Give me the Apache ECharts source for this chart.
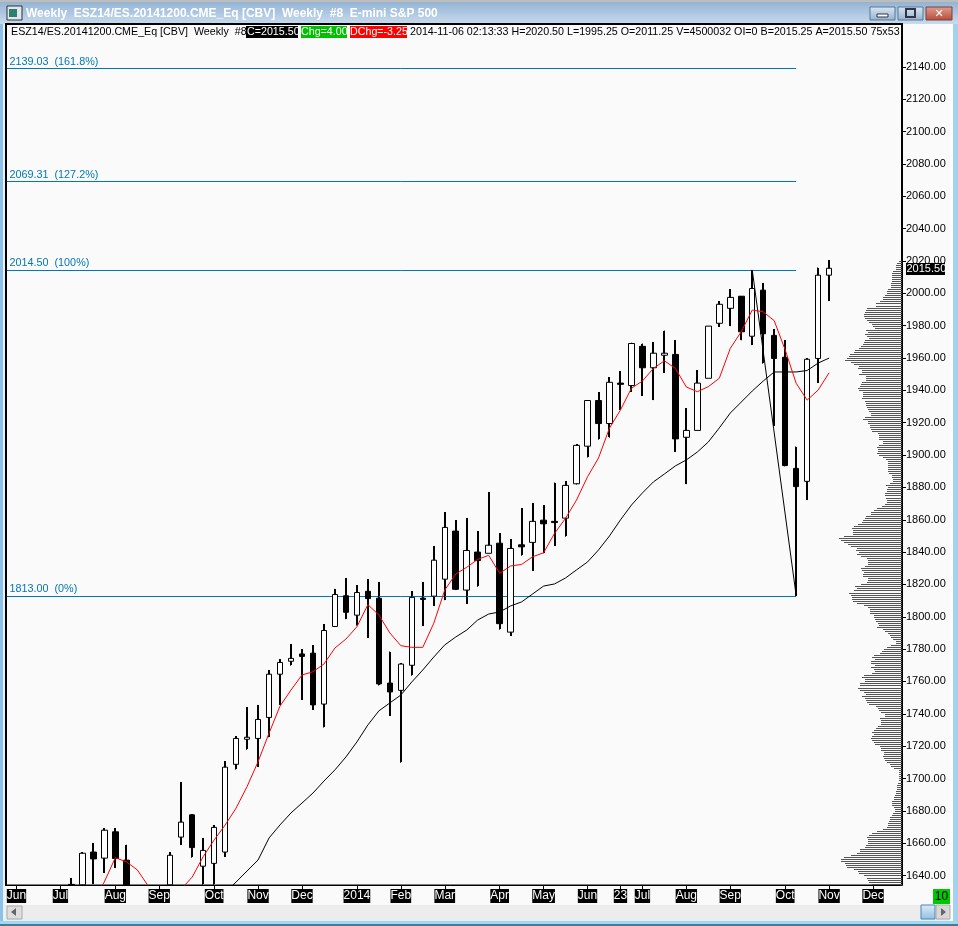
<!DOCTYPE html>
<html><head><meta charset="utf-8">
<style>html,body{margin:0;padding:0;background:#fafafa;overflow:hidden}#c{width:958px;height:926px}</style>
<script src="https://cdn.jsdelivr.net/npm/echarts@6/dist/echarts.min.js"></script></head>
<body><div id="c"></div>
<script>
const tickLabels = ['', 'Jun','','','','Jul','','','','','Aug','','','','Sep','','','','','Oct','','','','Nov','','','','Dec','','','','','2014','','','','Feb','','','','Mar','','','','','Apr','','','','May','','','','Jun','','','23','','Jul','','','','Aug','','','','Sep','','','','','Oct','','','','Nov','','','','Dec','',''];
const opens  = [null,null,null,null,null,null,1634.5,1634.25,1654.5,1650.75,1667,1649.5,null,null,null,1634.25,1663.75,1677.5,1645.75,1647.5,1654.5,1708.75,1724.25,1724.75,1737.75,1764.5,1772.5,1777,1777.5,1746,1794,1813,1801,1815.75,1811.5,1759,1754.5,1770,1811.5,1812.75,1823.25,1853,1816.5,1840,1839.25,1845.5,1790.5,1844.5,1846,1859.75,1859,1861,1882.25,1905.5,1933.75,1919.5,1944.5,1943,1967.25,1954,1961.75,1962.25,1911,1915.25,1947.5,1981.5,1990.75,1998.25,1973.5,2002,1974,1960.5,1891.75,1883.75,1959.75,2011.25];
const closes = [null,null,null,null,null,null,1634.25,1653.75,1650.25,1668,1650.5,1634.25,null,null,null,1652.5,1673,1657.25,1655.5,1669.75,1707,1724.75,1725.5,1736.5,1764.5,1771.75,1774.25,1775.5,1745.5,1791.5,1813.75,1802.75,1815,1811.25,1758.5,1753.5,1770.75,1812,1810.75,1835,1855.25,1817,1841,1834.75,1844.25,1795.75,1842.25,1843.25,1859,1857.5,1858.25,1881.25,1906,1933.75,1919.5,1945,1943.75,1969,1954,1963,1963,1910,1915.25,1944.5,1979.75,1993.25,1997.5,1976.25,2003,1975,1959.75,1893.5,1880.5,1959.25,2011.25,2015.5];
const lows   = [null,null,null,null,null,null,1634.25,1634.25,1634.75,1641.5,1644.75,1634.25,null,null,null,1634.25,1659,1651,1634.25,1634.25,1651.5,1705.5,1717.75,1707.25,1725.5,1745.5,1769.75,1748.75,1742.5,1731.5,1794,1798.5,1794.5,1787,1757.5,1738.75,1709.75,1763.5,1794.5,1806.75,1810.25,1816.5,1808,1818.5,1839.25,1792,1788.25,1837.75,1828.5,1839.25,1844,1849.5,1881.75,1898.5,1909.5,1910.75,1928,1939.25,1937,1934,1951,1902,1882,1915.25,1947.5,1979.25,1979.75,1971,1968,1956.5,1918,1893,1813,1872.25,1944.75,1995.25];
const highs  = [null,null,null,null,null,null,1638.25,1654.5,1660,1669.25,1669.25,1659,null,null,null,1654.5,1697.75,1677.75,1663,1671,1710.75,1726,1744,1745.5,1767,1773.75,1783,1780,1782.5,1795.5,1817.25,1823.75,1819.5,1823.25,1821.25,1778.5,1771.25,1815.75,1821.5,1843.75,1864.5,1859.75,1861,1852.75,1877,1851.5,1848,1867,1870.25,1869,1883,1883.75,1906.75,1934,1938.75,1948,1952,1969.5,1969,1969.75,1977,1971,1929,1952.5,1979.75,1995.25,2002.5,1998.25,2014.5,2006.25,1977.75,1971,1905.25,1960,2016,2020.5];
const fastAverage = [null,null,null,null,null,null,null,null,1625,1636,1651,1648.5,1643.5,1633.5,1625,1625,1631.6,1639,1651.6,1662,1671.2,1681.7,1695,1710.4,1728,1744.8,1754.7,1764,1766,1770.8,1780.7,1786.2,1793.8,1807.5,1801.1,1790,1782.1,1781.1,1781.1,1796,1816.5,1826.4,1830.6,1835.5,1838,1826.9,1831.4,1832.4,1837.1,1839.6,1851.6,1860.9,1872.2,1886.6,1898.2,1916.7,1927.9,1941.3,1945.8,1953.6,1958.3,1953.6,1942.1,1939.2,1942.3,1947.5,1966,1976.3,1989.7,1988.6,1983.1,1965,1944.4,1934,1940.2,1950.9];
const slowAverage = [null,null,null,null,null,null,null,null,null,null,null,null,null,null,null,null,null,null,null,null,1629.2,1636,1642.8,1649.6,1663.2,1671.3,1678.7,1684.8,1691,1698.4,1705.3,1713.3,1722.6,1733.1,1741.8,1746.7,1751.6,1759.7,1767.1,1775.1,1782.6,1787.5,1791.8,1798,1801.7,1803,1806.7,1809.2,1814.1,1819,1820.3,1824,1829,1833.9,1841.3,1850,1859.9,1869.1,1876.6,1883.4,1888.3,1893.3,1897,1901.9,1908.1,1916.8,1926,1932.8,1939.6,1945.8,1951.4,1951.4,1951.4,1952.3,1956.9,1960];
const swingLeg = [[68,2014.5],[72,1813]];
const fibPrices = [2139.03,2069.31,2014.50,1813.00];
const fibNames = ['2139.03  (161.8%)','2069.31  (127.2%)','2014.50  (100%)','1813.00  (0%)'];
const fibEndIndex = 72;
const priceTicks = [1640,1660,1680,1700,1720,1740,1760,1780,1800,1820,1840,1860,1880,1900,1920,1940,1960,1980,2000,2020,2040,2060,2080,2100,2120,2140];
const profileTopPrice = 2020, profileStep = 1.25;
const profile = [3,5,6,6,6,9,10,10,10,10,10,11,11,11,14,15,15,17,19,19,22,26,26,35,36,37,38,38,37,35,33,30,29,27,36,34,37,35,33,37,38,39,41,43,47,48,52,53,55,57,51,48,43,44,40,40,43,36,36,36,40,41,42,44,43,39,39,39,40,37,36,36,35,34,33,31,31,
37,39,34,34,32,32,31,30,24,23,23,23,19,19,23,25,24,24,25,23,19,16,14,14,14,14,14,14,13,10,10,9,9,12,16,14,15,15,17,17,16,15,15,17,20,25,28,31,31,36,37,39,40,44,48,50,49,49,49,58,63,61,58,54,51,45,46,43,45,41,35,34,34,34,37,41,40,38,
39,39,34,34,35,41,47,45,48,53,51,50,50,49,45,38,34,32,32,32,28,28,27,26,24,23,25,19,17,14,12,11,9,6,6,11,15,18,20,22,28,30,27,31,31,27,31,28,27,30,38,40,37,37,42,42,44,42,38,36,40,37,36,35,33,26,24,23,21,17,17,22,21,21,21,24,26,28,
30,28,30,31,30,28,27,22,21,21,18,18,19,18,17,15,12,11,8,3,3,3,3,3,3,4,5,5,5,6,6,7,8,8,10,10,10,8,7,7,9,10,12,12,13,14,14,15,19,25,30,33,35,34,34,34,36,37,42,42,45,51,58,61,61,57,56,55,48,44,43,38,35,34,33,30,27];

const candleData = opens.map((o,i)=>[o,closes[i],lows[i],highs[i]]);
const wickData = opens.map((o,i)=>[i,lows[i],highs[i]]).filter(r=>r[1]!==null);
const profileData = profile.map((v,i)=>[v,profileTopPrice-i*profileStep]);
const yMin = 1634.12, yMax = 2166.59;
const labelFont = 'Liberation Sans';
const showLabel = (i,v)=>v!=='';

const fibMarks = fibPrices.map((p,i)=>[
  {coord:[0,p],label:{formatter:fibNames[i]}},
  {coord:[fibEndIndex,p]}
]);

function crisp(params,api){
  const x=api.coord([api.value(0),0])[0];
  const y1=api.coord([api.value(0),api.value(2)])[1];
  const y2=api.coord([api.value(0),api.value(1)])[1];
  const r=echarts.graphic.clipRectByRect({x:Math.round(x)-1,y:Math.round(y1),width:2,height:Math.round(y2-y1)},
    {x:params.coordSys.x,y:params.coordSys.y,width:params.coordSys.width,height:params.coordSys.height});
  return r?{type:'rect',shape:r,style:{fill:'#000'}}:null;
}
function profileRow(params,api){
  const a=api.coord([api.value(0),api.value(1)]);
  const b=api.coord([0,api.value(1)]);
  const r=echarts.graphic.clipRectByRect({x:a[0],y:Math.round(a[1]),width:b[0]-a[0],height:1},
    {x:params.coordSys.x,y:params.coordSys.y,width:params.coordSys.width,height:params.coordSys.height});
  return r?{type:'rect',shape:r,style:{fill:'#555'}}:null;
}

const T=100;
const rect=(x,y,w,h,fill,extra)=>Object.assign({type:'rect',z:T,silent:true,shape:{x,y,width:w,height:h},style:{fill}},extra||{});
const text=(x,y,t,opt)=>({type:'text',z:T+1,silent:true,x,y,style:Object.assign({text:t,font:'10.7px "Liberation Sans"',fill:'#000',textVerticalAlign:'middle'},opt||{})});
const titleGrad=new echarts.graphic.LinearGradient(0,0,0,1,[{offset:0,color:'#8fb0d2'},{offset:1,color:'#c8dbee'}]);
const btnGrad=(a,b)=>new echarts.graphic.LinearGradient(0,0,0,1,[{offset:0,color:a},{offset:1,color:b}]);
const chrome=[
  rect(0,0,958,24,titleGrad),
  rect(0,0,958,2,'#bdbdbd'),
  rect(0,24,3,902,'#8ec1e6'),rect(3,24,2,902,'#e8f2fa'),
  rect(950,24,3,902,'#ffffff'),rect(953,24,5,902,'#9fd3ee'),
  rect(5,905,945,16,'#ececec'),
  rect(0,921,958,3,'#9fd8f2'),rect(0,924,958,2,'#3b7f9c'),
  rect(5,23,898,2,'#000'),rect(5,24,2,862,'#000'),
  rect(7,6,15,14,'#dfe6ee',{style:{fill:'#dfe6ee',stroke:'#333',lineWidth:1}}),
  rect(9,9,8,8,'#2f7f6f'),
  {type:'text',z:T+1,silent:true,x:26,y:14,style:{text:'Weekly  ESZ14/ES.20141200.CME_Eq [CBV]  Weekly  #8  E-mini S&P 500',font:'bold 12px "Liberation Sans"',fill:'#fff',textVerticalAlign:'middle',shadowColor:'#345',shadowBlur:1,shadowOffsetX:1,shadowOffsetY:1}},
  rect(870,7,25,13,btnGrad('#dbe7f3','#93b2d1'),{style:{fill:btnGrad('#dbe7f3','#93b2d1'),stroke:'#5a7690',lineWidth:1}}),
  rect(877,14,11,3,'#fff',{style:{fill:'#fff',stroke:'#334',lineWidth:1}}),
  rect(898,7,25,13,btnGrad('#dbe7f3','#93b2d1'),{style:{fill:btnGrad('#dbe7f3','#93b2d1'),stroke:'#5a7690',lineWidth:1}}),
  rect(906,9,9,8,'#fff',{style:{fill:'none',stroke:'#334',lineWidth:2}}),
  rect(926,7,26,13,btnGrad('#e0a090','#b94a3a'),{style:{fill:btnGrad('#e0a090','#b94a3a'),stroke:'#7a4038',lineWidth:1}}),
  {type:'text',z:T+1,silent:true,x:939,y:14,style:{text:'✕',font:'bold 11px "DejaVu Sans"',fill:'#fff',textAlign:'center',textVerticalAlign:'middle'}},
  // legend line
  text(11,32,'ESZ14/ES.20141200.CME_Eq [CBV]  Weekly  #8'),
  rect(246,26,52,12,'#000'),text(247,32,'C=2015.50',{fill:'#fff'}),
  rect(301,26,46,12,'#00c000'),text(301,32,'Chg=4.00',{fill:'#fff'}),
  rect(350,26,57,12,'#ff0000'),text(350,32,'DChg=-3.25',{fill:'#fff'}),
  text(410,32,'2014-11-06 02:13:33 H=2020.50 L=1995.25 O=2011.25 V=4500032 OI=0 B=2015.25 A=2015.50 75x53'),
  rect(903,24,47,30,'#fafafa'),
  // last price tag
  rect(906,263,39,12,'#000'),text(906.5,269,'2015.50',{fill:'#fff',font:'11px "Liberation Sans"'}),
  // bottom status
  rect(933,889,17,15,'#00c800'),
  {type:'text',z:T+1,silent:true,x:941.5,y:897,style:{text:'10',font:'12px "Liberation Sans"',fill:'#000',textAlign:'center',textVerticalAlign:'middle'}},
  rect(7,906,15,13,'#dedede',{style:{fill:'#dedede',stroke:'#aaa',lineWidth:1}}),
  {type:'polygon',z:T+1,silent:true,shape:{points:[[11,912],[16,908],[16,916]]},style:{fill:'#666'}},
  rect(921,905,14,14,btnGrad('#dcecf8','#8fc0e6'),{style:{fill:btnGrad('#dcecf8','#8fc0e6'),stroke:'#4f86b0',lineWidth:1}}),
  rect(936,905,14,14,'#d8d8d8',{style:{fill:'#d8d8d8',stroke:'#aaa',lineWidth:1}}),
  {type:'polygon',z:T+1,silent:true,shape:{points:[[946,912],[941,908],[941,916]]},style:{fill:'#666'}}
];

const chart=echarts.init(document.getElementById('c'),null,{renderer:'canvas',width:958,height:926});
chart.setOption({
  animation:false,
  backgroundColor:'#fafafa',
  grid:[
    {left:-1.5,top:24,width:902,height:861,show:false},
    {left:6,top:24,width:896,height:861,show:true,backgroundColor:'#fafafa',borderColor:'#000',borderWidth:1}
  ],
  xAxis:[
    {type:'category',gridIndex:0,data:tickLabels,boundaryGap:true,
     axisLine:{show:true,lineStyle:{color:'#000',width:1}},
     axisTick:{show:true,interval:showLabel,alignWithLabel:true,length:4,lineStyle:{color:'#000'}},
     axisLabel:{show:true,interval:showLabel,hideOverlap:false,margin:4,color:'#fff',backgroundColor:'#000',
       fontFamily:labelFont,fontSize:12,lineHeight:14,padding:[0,0,0,0]},
     splitLine:{show:false}},
    {type:'value',gridIndex:1,inverse:true,min:0,max:896,show:false,splitLine:{show:false}}
  ],
  yAxis:[
    {type:'value',gridIndex:0,min:yMin,max:yMax,show:false,splitLine:{show:false}},
    {type:'value',gridIndex:1,position:'right',min:yMin,max:yMax,
     axisLine:{show:true,onZero:false,lineStyle:{color:'#000',width:2}},
     axisTick:{show:true,length:4,customValues:priceTicks,lineStyle:{color:'#000'}},
     axisLabel:{show:true,margin:4,customValues:priceTicks,color:'#000',fontFamily:labelFont,fontSize:11,padding:[3,0,0,0],
       formatter:v=>Number(v).toFixed(2)},
     splitLine:{show:false}}
  ],
  series:[
    {name:'Profile',type:'custom',xAxisIndex:1,yAxisIndex:1,data:profileData,renderItem:profileRow,z:1,silent:true,
     encode:{x:0,y:1}},
    {name:'Fibonacci',type:'line',xAxisIndex:0,yAxisIndex:0,data:[],z:3,silent:true,
     markLine:{silent:true,symbol:'none',animation:false,precision:2,
       lineStyle:{color:'#0078b4',width:1,type:'solid'},
       label:{show:true,position:'insideStartTop',distance:[4,1],color:'#0078b4',fontFamily:labelFont,fontSize:10.8},
       emphasis:{disabled:true},
       data:fibMarks}},
    {name:'Wicks',type:'custom',xAxisIndex:0,yAxisIndex:0,data:wickData,renderItem:crisp,z:4,silent:true,
     encode:{x:0,y:[1,2]}},
    {name:'ES weekly',type:'candlestick',xAxisIndex:0,yAxisIndex:0,data:candleData,barWidth:6,z:5,silent:true,
     itemStyle:{color:'#ffffff',color0:'#000000',borderColor:'#000000',borderColor0:'#000000',borderWidth:1}},
    {name:'Slow MA',type:'line',xAxisIndex:0,yAxisIndex:0,data:slowAverage,symbol:'none',z:6,silent:true,
     lineStyle:{color:'#000',width:1}},
    {name:'Swing',type:'line',xAxisIndex:0,yAxisIndex:0,data:swingLeg,symbol:'none',z:6,silent:true,
     lineStyle:{color:'#000',width:1}},
    {name:'Fast MA',type:'line',xAxisIndex:0,yAxisIndex:0,data:fastAverage,symbol:'none',z:7,silent:true,
     lineStyle:{color:'#ff0000',width:1}}
  ],
  graphic:{elements:chrome}
});
</script></body></html>
